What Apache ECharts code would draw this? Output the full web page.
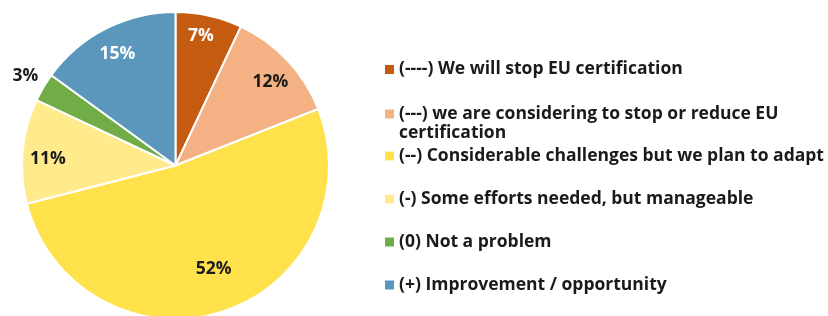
<!DOCTYPE html>
<html>
<head>
<meta charset="utf-8">
<script src="https://cdn.jsdelivr.net/npm/echarts@6/dist/echarts.min.js"></script>
<style>
  html, body { margin: 0; padding: 0; background: #fff; }
  #chart { width: 828px; height: 316px; }
</style>
</head>
<body>
<div id="chart"></div>
<script>
const categories = [
  '(----) We will stop EU certification',
  '(---) we are considering to stop or reduce EU certification',
  '(--) Considerable challenges but we plan to adapt',
  '(-) Some efforts needed, but manageable',
  '(0) Not a problem',
  '(+) Improvement / opportunity'
]
const shares = [7, 12, 52, 11, 3, 15]
const colors = ['#C55A11', '#F4B183', '#FFE14B', '#FFEB8C', '#70AD47', '#5B97BD']
const labelColors = ['#fff', '#1a1a1a', '#1a1a1a', '#1a1a1a', '#1a1a1a', '#fff']
// 标签微调 [dx, dy]
const labelNudge = [[-3, -2], [0, 6], [-2, -20], [2, 6], [0, -8], [1, 5]]

const FONT = 'Open Sans'
const chart = echarts.init(document.getElementById('chart'))

const center = [175.5, 165.5]
const R = 153.5

const legendText = { fontFamily: FONT, fontWeight: 'bold', fontSize: 17.5, color: '#1a1a1a', lineHeight: 19 }
const legendBase = {
  orient: 'vertical',
  left: 385,
  padding: 0,
  itemWidth: 9,
  itemHeight: 9,
  icon: 'rect',
  itemStyle: { borderWidth: 0 },
  selectedMode: false,
  textStyle: legendText
}

chart.setOption({
  animation: false,
  legend: [
    { ...legendBase, top: 60, data: [categories[0]] },
    {
      ...legendBase,
      top: 85.5,
      data: [categories[1]],
      // 折成两行，上面垫一空行让图标对齐第一行
      formatter: n => ' \n' + n.replace(' reduce EU ', ' reduce EU\n')
    },
    { ...legendBase, top: 146.5, itemGap: 24, data: categories.slice(2) }
  ],
  series: [
    {
      type: 'pie',
      center: center,
      radius: R,
      startAngle: 90,
      clockwise: true,
      silent: true,
      label: { show: false },
      labelLine: { show: false },
      itemStyle: { borderColor: '#fff', borderWidth: 2 },
      data: categories.map((name, i) => ({
        name, value: shares[i], itemStyle: { color: colors[i] }
      }))
    },
    {
      // 标签层，透明
      type: 'pie',
      center: center,
      radius: [101, R],
      startAngle: 90,
      clockwise: true,
      silent: true,
      avoidLabelOverlap: false,
      itemStyle: { color: 'transparent', borderWidth: 0 },
      label: {
        show: true,
        position: 'inside',
        fontFamily: FONT,
        fontWeight: 'bold',
        fontSize: 17.5,
        formatter: p => shares[p.dataIndex] + '%'
      },
      labelLine: { show: false },
      labelLayout: p => ({ dx: labelNudge[p.dataIndex][0], dy: labelNudge[p.dataIndex][1] }),
      data: categories.map((name, i) => {
        const item = { name, value: shares[i], label: { color: labelColors[i] } }
        if (i === 4) {
          item.label.position = 'outside'
          item.label.distanceToLabelLine = 0
          item.labelLine = { show: false, length: 6, length2: 0 }
        }
        return item
      })
    }
  ]
})
</script>
</body>
</html>
